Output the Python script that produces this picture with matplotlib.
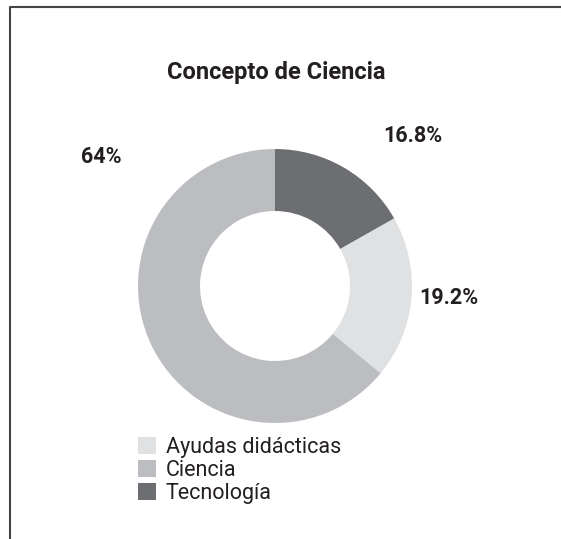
import matplotlib.pyplot as plt
from matplotlib.patches import Patch

plt.rcParams['font.family'] = ['Roboto', 'DejaVu Sans']

# datos
categorias = ["Ayudas didácticas", "Ciencia", "Tecnología"]
valores = [19.2, 64, 16.8]
etiquetas = ["19.2%", "64%", "16.8%"]
colores = ["#e0e1e3", "#bcbdc0", "#6d6e71"]

W, H = 561, 539
fig = plt.figure(figsize=(W / 100, H / 100), dpi=100)
ax = fig.add_axes([0, 0, 1, 1])

# orden de dibujo: Tecnología, Ayudas, Ciencia (horario desde arriba)
orden = [2, 0, 1]
ax.pie([valores[i] for i in orden], colors=[colores[i] for i in orden],
       startangle=90, counterclock=False, center=(275, H - 286), radius=137,
       wedgeprops=dict(width=62, edgecolor='none'), frame=True)
ax.set_xlim(0, W)
ax.set_ylim(0, H)
ax.set_aspect('equal')
ax.axis('off')

# marco
ax.plot([10, 10, W], [0, H - 7, H - 7], color='#444444', lw=1.5, clip_on=False)

ax.text(276, H - 72, "Concepto de Ciencia", ha='center', va='center',
        fontsize=17, fontweight='bold', color='#231f20')

pos_etq = {"16.8%": (413, 136), "19.2%": (449, 298), "64%": (101, 157)}
for e in etiquetas:
    x, y = pos_etq[e]
    ax.text(x, H - y, e, ha='center', va='center', fontsize=15.5,
            fontweight='bold', color='#231f20')

handles = [Patch(facecolor=c, edgecolor='none') for c in colores]
leg = ax.legend(handles, categorias, loc='upper left', bbox_to_anchor=(0.246, 0.19),
                frameon=False, fontsize=15.5, handlelength=0.85, handleheight=0.85,
                handletextpad=0.45, labelspacing=0.1, borderaxespad=0, borderpad=0)
for t in leg.get_texts():
    t.set_color('#231f20')

fig.savefig("out.png", dpi=100)
